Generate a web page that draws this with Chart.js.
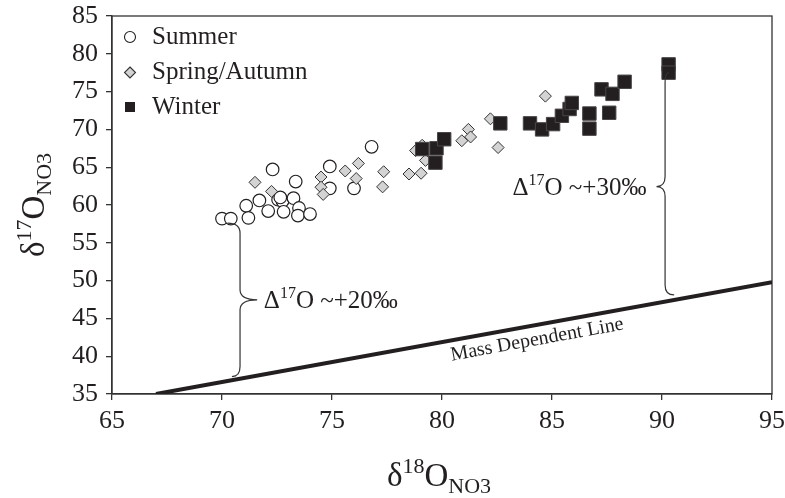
<!DOCTYPE html>
<html>
<head>
<meta charset="utf-8">
<script src="https://cdn.jsdelivr.net/npm/chart.js@4.4.1/dist/chart.umd.min.js"></script>
<style>
  html, body { margin: 0; padding: 0; background: #fff; }
</style>
</head>
<body>
<canvas id="myChart" width="785" height="498"></canvas>
<script>
// Data
const summerX = [70.0, 70.4, 71.1, 71.2, 71.7, 72.1, 72.3, 72.55, 72.75, 72.65, 72.8, 73.25, 73.35, 73.5, 73.45, 74.0, 74.9, 74.9, 76.0, 76.8];
const summerY = [58.2, 58.2, 59.9, 58.3, 60.6, 59.2, 64.7, 60.7, 60.5, 61.0, 59.1, 60.9, 63.1, 59.6, 58.6, 58.8, 65.1, 62.2, 62.2, 67.7];

const springX = [71.5, 72.25, 74.5, 74.5, 74.6, 75.6, 76.2, 76.1, 77.35, 77.3, 78.5, 79.05, 78.8, 79.1, 79.25, 80.9, 81.2, 81.3, 82.2, 82.55, 84.7];
const springY = [63.0, 61.8, 63.7, 62.35, 61.4, 64.5, 65.5, 63.5, 64.4, 62.4, 64.1, 64.2, 67.2, 67.9, 65.9, 68.5, 70.0, 69.0, 71.4, 67.6, 74.4];

const winterX = [79.1, 79.75, 80.1, 79.7, 82.65, 84.0, 84.55, 85.05, 85.45, 85.8, 85.9, 86.7, 86.7, 87.25, 87.75, 88.3, 87.6, 90.3, 90.3];
const winterY = [67.4, 67.5, 68.7, 65.6, 70.8, 70.8, 70.0, 70.7, 71.8, 72.7, 73.5, 72.1, 70.1, 75.3, 74.7, 76.3, 72.2, 78.6, 77.5];

const massX = [67, 95];
const massY = [35, 49.8];

const xTickValues = [65, 70, 75, 80, 85, 90, 95];
const yTickValues = [35, 40, 45, 50, 55, 60, 65, 70, 75, 80, 85];

const FONT = "'Liberation Serif', 'Times New Roman', serif";
const INK = "#231f20";

function toPoints(xs, ys) {
  return xs.map((x, i) => ({ x: x, y: ys[i] }));
}

// draw a run of text pieces (normal / super / sub) starting at x, baseline y
function richText(ctx, parts, x, y, align) {
  let total = 0;
  parts.forEach((p) => {
    ctx.font = p.size + "px " + FONT;
    p.w = ctx.measureText(p.t).width;
    total += p.w;
  });
  let cx = align === "center" ? x - total / 2 : x;
  ctx.textBaseline = "alphabetic";
  ctx.textAlign = "left";
  parts.forEach((p) => {
    ctx.font = p.size + "px " + FONT;
    ctx.fillText(p.t, cx, y + (p.dy || 0));
    cx += p.w;
  });
}

function brace(ctx, xv, yTop, yMid, yBot, topEndX, tipX, botEndX) {
  const d = 10;
  ctx.beginPath();
  ctx.moveTo(topEndX, yTop);
  ctx.quadraticCurveTo(xv, yTop, xv, yTop + d);
  ctx.lineTo(xv, yMid - d);
  ctx.quadraticCurveTo(xv, yMid, tipX, yMid);
  ctx.quadraticCurveTo(xv, yMid, xv, yMid + d);
  ctx.lineTo(xv, yBot - d);
  ctx.quadraticCurveTo(xv, yBot, botEndX, yBot);
  ctx.stroke();
}

const extras = {
  id: "extras",
  beforeDatasetsDraw(chart) {
    const { ctx, chartArea: a } = chart;
    ctx.save();
    ctx.strokeStyle = "#333";
    ctx.lineWidth = 1.3;
    ctx.strokeRect(a.left, a.top, a.right - a.left, a.bottom - a.top);
    ctx.restore();
  },
  afterDatasetsDraw(chart) {
    const { ctx } = chart;
    const xs = chart.scales.x;
    const ys = chart.scales.y;
    const px = (v) => xs.getPixelForValue(v);
    const py = (v) => ys.getPixelForValue(v);
    ctx.save();
    ctx.strokeStyle = "#333";
    ctx.lineWidth = 1.2;
    brace(ctx, px(70.82), py(57.6), py(47.46), py(37.3), px(70.25), px(71.6), px(70.45));
    brace(ctx, px(90.14), py(77.5), py(62.44), py(48.1), px(90.3), px(89.75), px(90.55));

    ctx.fillStyle = INK;
    richText(ctx, [
      { t: "\u0394", size: 25 },
      { t: "17", size: 16, dy: -10 },
      { t: "O ~+20\u2030", size: 25 }
    ], px(71.9), py(46.4), "left");
    richText(ctx, [
      { t: "\u0394", size: 25 },
      { t: "17", size: 16, dy: -10 },
      { t: "O ~+30\u2030", size: 25 }
    ], px(83.2), py(61.34), "left");

    // label along the mass dependent line, sitting just under it
    const x0 = px(massX[0]), y0 = py(massY[0]);
    const x1 = px(massX[1]), y1 = py(massY[1]);
    const ang = Math.atan2(y1 - y0, x1 - x0);
    const lx = 84.2;
    const ly = massY[0] + (lx - massX[0]) * (massY[1] - massY[0]) / (massX[1] - massX[0]);
    ctx.translate(px(lx), py(ly));
    ctx.rotate(ang);
    ctx.font = "20px " + FONT;
    ctx.textAlign = "center";
    ctx.textBaseline = "alphabetic";
    ctx.fillText("Mass Dependent Line", 0, 20);
    ctx.restore();
  },
  afterDraw(chart) {
    const { ctx, chartArea: a } = chart;
    ctx.save();
    // legend
    const mx = a.left + 18;
    const rows = [a.top + 21, a.top + 56.5, a.top + 91];
    ctx.lineWidth = 1.1;
    ctx.strokeStyle = INK;
    ctx.fillStyle = "#fff";
    ctx.beginPath();
    ctx.arc(mx, rows[0], 5.5, 0, Math.PI * 2);
    ctx.fill();
    ctx.stroke();
    ctx.fillStyle = "#d3d3d3";
    ctx.strokeStyle = "#333";
    ctx.beginPath();
    ctx.moveTo(mx, rows[1] - 5.5);
    ctx.lineTo(mx + 5.5, rows[1]);
    ctx.lineTo(mx, rows[1] + 5.5);
    ctx.lineTo(mx - 5.5, rows[1]);
    ctx.closePath();
    ctx.fill();
    ctx.stroke();
    ctx.fillStyle = INK;
    ctx.fillRect(mx - 5, rows[2] - 5, 10, 10);

    ctx.font = "25px " + FONT;
    ctx.textAlign = "left";
    ctx.textBaseline = "middle";
    ctx.fillText("Summer", a.left + 40, rows[0]);
    ctx.fillText("Spring/Autumn", a.left + 40, rows[1]);
    ctx.fillText("Winter", a.left + 40, rows[2]);

    // axis titles
    richText(ctx, [
      { t: "\u03b4", size: 33 },
      { t: "18", size: 22, dy: -13 },
      { t: "O", size: 33 },
      { t: "NO3", size: 22, dy: 7 }
    ], (a.left + a.right) / 2 - 3, 486, "center");

    ctx.translate(44, (a.top + a.bottom) / 2);
    ctx.rotate(-Math.PI / 2);
    richText(ctx, [
      { t: "\u03b4", size: 33 },
      { t: "17", size: 22, dy: -13 },
      { t: "O", size: 33 },
      { t: "NO3", size: 22, dy: 7 }
    ], 0, 0, "center");
    ctx.restore();
  }
};

const ctx1 = document.getElementById("myChart");

new Chart(ctx1, {
  type: "scatter",
  data: {
    datasets: [
      {
        label: "Mass Dependent Line",
        type: "line",
        data: toPoints(massX, massY),
        borderColor: INK,
        borderWidth: 4,
        pointRadius: 0,
        fill: false,
        order: 4,
      },
      {
        label: "Summer",
        data: toPoints(summerX, summerY),
        pointStyle: "circle",
        pointRadius: 6.3,
        pointBackgroundColor: "#fff",
        pointBorderColor: INK,
        pointBorderWidth: 1.2,
        order: 3,
      },
      {
        label: "Spring/Autumn",
        data: toPoints(springX, springY),
        pointStyle: "rectRot",
        pointRadius: 6,
        pointBackgroundColor: "#d3d3d3",
        pointBorderColor: "#333",
        pointBorderWidth: 1,
        order: 2,
      },
      {
        label: "Winter",
        data: toPoints(winterX, winterY),
        pointStyle: "rect",
        pointRadius: 9.5,
        pointBackgroundColor: INK,
        pointBorderColor: "#4a4647",
        pointBorderWidth: 1,
        order: 1,
      },
    ],
  },
  options: {
    responsive: false,
    animation: false,
    layout: { padding: { top: 16, right: 13, left: 0, bottom: 0 } },
    plugins: {
      legend: { display: false },
      tooltip: { enabled: false },
    },
    scales: {
      x: {
        type: "linear",
        min: 65,
        max: 95,
        afterBuildTicks: (scale) => {
          scale.ticks = xTickValues.map((v) => ({ value: v }));
        },
        afterFit: (scale) => {
          scale.height = 104;
          scale.paddingLeft = 0;
          scale.paddingRight = 0;
        },
        grid: {
          drawOnChartArea: false,
          color: "#333",
          tickLength: 6,
          lineWidth: 1.3,
        },
        border: { color: "#333", width: 1.3 },
        ticks: {
          color: INK,
          font: { family: FONT, size: 26 },
          padding: 6,
          maxRotation: 0,
        },
      },
      y: {
        type: "linear",
        min: 35,
        max: 85,
        afterBuildTicks: (scale) => {
          scale.ticks = yTickValues.map((v) => ({ value: v }));
        },
        afterFit: (scale) => {
          scale.width = 112;
          scale.paddingTop = 0;
          scale.paddingBottom = 0;
        },
        grid: {
          drawOnChartArea: false,
          color: "#333",
          tickLength: 6,
          lineWidth: 1.3,
        },
        border: { color: "#333", width: 1.3 },
        ticks: {
          color: INK,
          font: { family: FONT, size: 26 },
          padding: 8,
        },
      },
    },
  },
  plugins: [extras],
});
</script>
</body>
</html>
